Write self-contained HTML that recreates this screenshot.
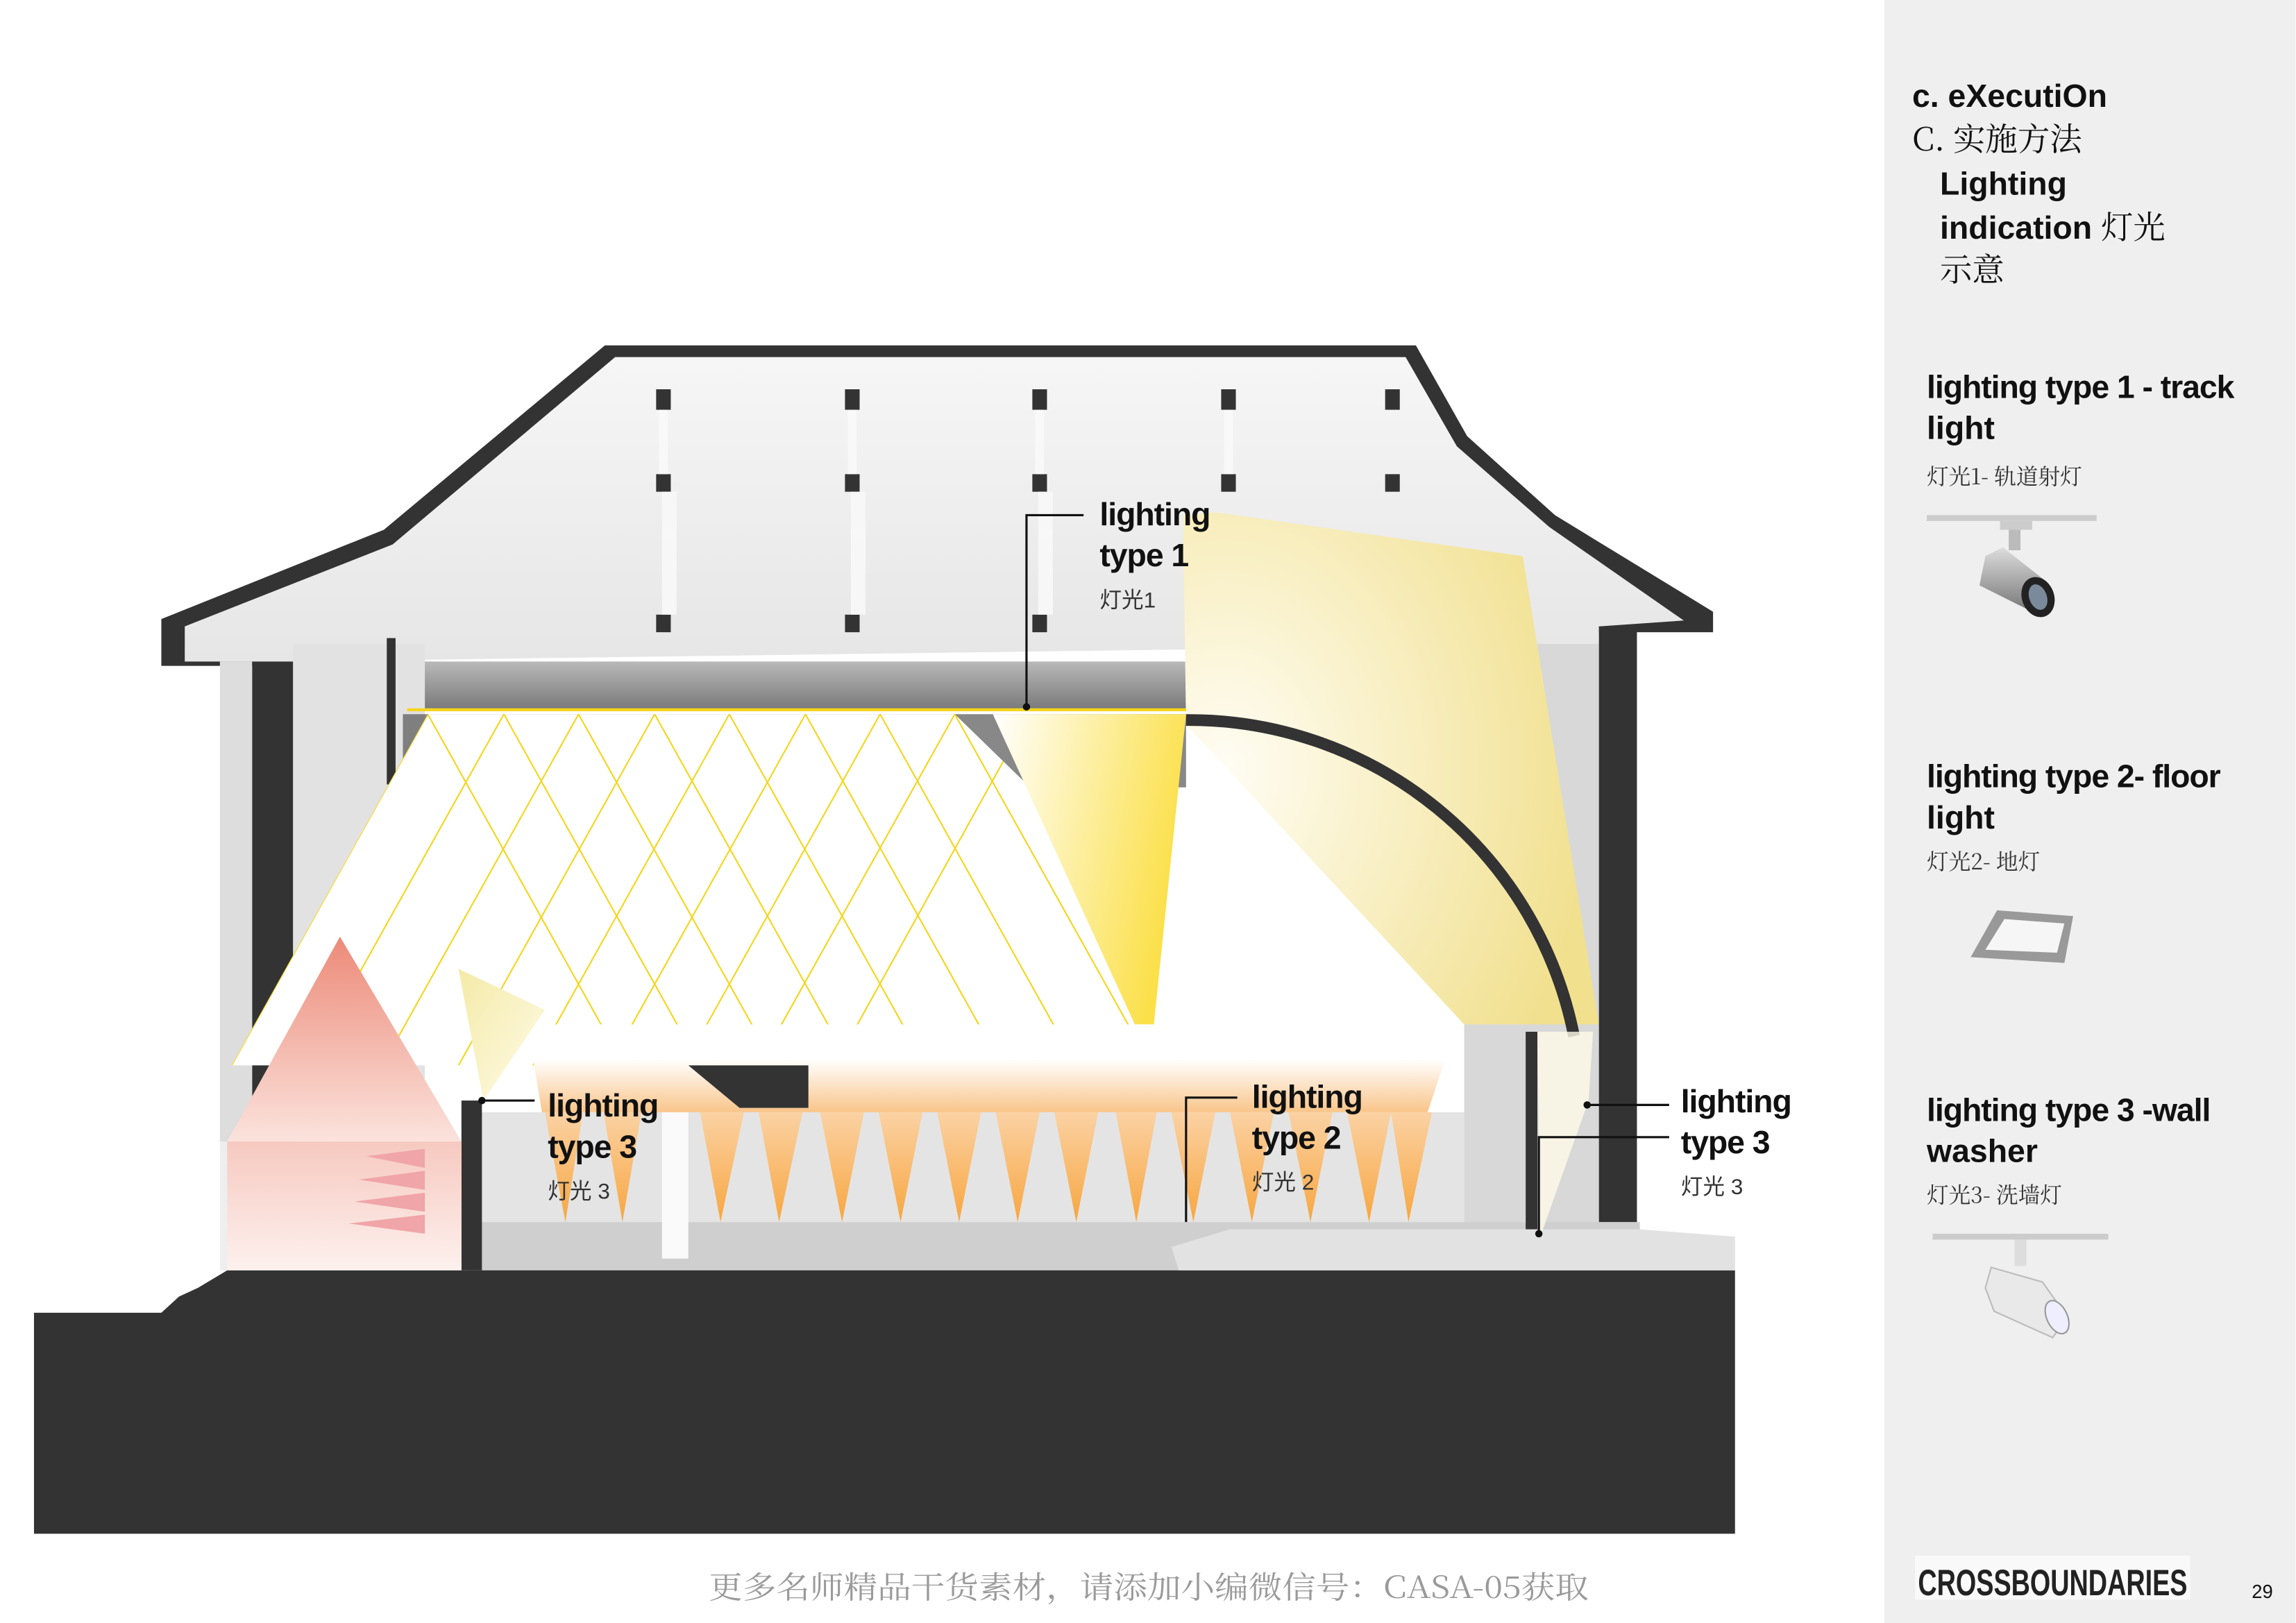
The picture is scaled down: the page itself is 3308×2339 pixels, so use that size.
<!DOCTYPE html>
<html><head><meta charset="utf-8">
<style>
html,body{margin:0;padding:0;background:#fff;}
svg{display:block;}
text{font-family:"Liberation Sans","Noto Sans CJK SC",sans-serif;}
.b{font-weight:bold;fill:#111;}
.c{font-family:"Noto Serif CJK SC","Liberation Serif",serif;fill:#333;}
</style></head><body>
<svg width="3308" height="2339" viewBox="0 0 1568 1109" xmlns="http://www.w3.org/2000/svg">
<defs>
<linearGradient id="ceil" x1="0" y1="0" x2="0" y2="1"><stop offset="0" stop-color="#f6f6f6"/><stop offset="1" stop-color="#e6e6e6"/></linearGradient>
<linearGradient id="yb" x1="0" y1="0" x2="1" y2="0.3"><stop offset="0" stop-color="#fff"/><stop offset="1" stop-color="#fbe04a"/></linearGradient>
<radialGradient id="fan2" cx="0.1" cy="0.5" r="0.9"><stop offset="0" stop-color="#fffdf4"/><stop offset="1" stop-color="#f1e08e"/></radialGradient>
<linearGradient id="or" x1="0" y1="0" x2="0" y2="1"><stop offset="0" stop-color="#fff"/><stop offset="0.4" stop-color="#fff"/><stop offset="1" stop-color="#f9c58a"/></linearGradient>
<linearGradient id="or2" x1="0" y1="0" x2="0" y2="1"><stop offset="0" stop-color="#fbd2a4"/><stop offset="1" stop-color="#f7a640"/></linearGradient>
<linearGradient id="pk" x1="0" y1="0" x2="0" y2="1"><stop offset="0" stop-color="#ec8a78"/><stop offset="1" stop-color="#fbe3dd"/></linearGradient>
<linearGradient id="pk2" x1="0" y1="0" x2="0" y2="1"><stop offset="0" stop-color="#f6c9c0"/><stop offset="1" stop-color="#fdf1ee"/></linearGradient>
<linearGradient id="ly" x1="0" y1="0" x2="1" y2="1"><stop offset="0" stop-color="#f4eaa8"/><stop offset="1" stop-color="#fffbe8"/></linearGradient>
<linearGradient id="slat" x1="0" y1="0" x2="0" y2="1"><stop offset="0" stop-color="#b9b9b9"/><stop offset="1" stop-color="#777"/></linearGradient>
<linearGradient id="cyl" x1="0" y1="0" x2="0" y2="1"><stop offset="0" stop-color="#ddd"/><stop offset="0.5" stop-color="#aaa"/><stop offset="1" stop-color="#777"/></linearGradient>
<clipPath id="wb"><polygon points="158,728 292,488 652,488 870,700 560,705 540,728"/></clipPath>
</defs>

<rect x="1287" y="0" width="281" height="1109" fill="#efefef"/>

<polygon points="110,423 262,362 413,236 967,236 1002,298 1062,352 1170,418 1170,432 1118,432 1118,852 1092,852 1092,432 200,432 200,780 172,780 172,455 110,455" fill="#333"/>
<polygon points="126,428 268,372 420,244 960,244 995,305 1058,360 1150,424 1092,428 1092,440 200,452 126,452" fill="url(#ceil)"/>
<rect x="200" y="440" width="90" height="340" fill="#e2e2e2"/>
<rect x="150" y="452" width="22" height="330" fill="#ddd"/>
<rect x="264" y="436" width="6" height="100" fill="#333"/>
<rect x="1000" y="440" width="92" height="400" fill="#d8d8d8"/>
<g fill="#333">
<rect x="448" y="266" width="10" height="14"/><rect x="448" y="324" width="10" height="12"/><rect x="448" y="420" width="10" height="12"/>
<rect x="577" y="266" width="10" height="14"/><rect x="577" y="324" width="10" height="12"/><rect x="577" y="420" width="10" height="12"/>
<rect x="705" y="266" width="10" height="14"/><rect x="705" y="324" width="10" height="12"/><rect x="705" y="420" width="10" height="12"/>
<rect x="834" y="266" width="10" height="14"/><rect x="834" y="324" width="10" height="12"/>
<rect x="946" y="266" width="10" height="14"/><rect x="946" y="324" width="10" height="12"/>
</g>
<g fill="#fafafa" opacity="0.8">
<rect x="450" y="280" width="6" height="44"/><rect x="579" y="280" width="6" height="44"/><rect x="707" y="280" width="6" height="44"/><rect x="836" y="280" width="6" height="44"/>
<rect x="452" y="336" width="10" height="84"/><rect x="581" y="336" width="10" height="84"/><rect x="709" y="336" width="10" height="84"/>
</g>
<rect x="290" y="452" width="520" height="34" fill="url(#slat)"/>
<rect x="275" y="488" width="535" height="50" fill="#555" opacity="0.7"/>

<rect x="150" y="780" width="170" height="88" fill="#eee"/>
<rect x="320" y="835" width="800" height="33" fill="#cfcfcf"/>
<rect x="320" y="760" width="680" height="75" fill="#e4e4e4"/>
<rect x="315" y="752" width="14" height="116" fill="#333"/>
<rect x="1042" y="705" width="8" height="147" fill="#333"/>
<rect x="452" y="750" width="18" height="110" fill="#fafafa"/>
<polygon points="23,897 110,897 122,886 135,880 145,874 155,868 1185,868 1185,1048 23,1048" fill="#333"/>
<polygon points="800,852 840,840 1120,840 1185,845 1185,868 805,868" fill="#e2e2e2"/>

<polygon points="808,352 830,350 1040,380 1092,700 1000,700 810,495" fill="url(#fan2)"/>
<path d="M810,492 A268,268 0 0 1 1075,708" fill="none" stroke="#333" stroke-width="8"/>

<polygon points="158,728 292,488 652,488 870,700 560,705 540,728" fill="#fff"/>
<g clip-path="url(#wb)" stroke="#f5d51c" stroke-width="1" fill="none">
<line x1="292" y1="488" x2="158" y2="728"/><line x1="292" y1="488" x2="426" y2="728"/>
<line x1="344" y1="488" x2="210" y2="728"/><line x1="344" y1="488" x2="478" y2="728"/>
<line x1="395" y1="488" x2="261" y2="728"/><line x1="395" y1="488" x2="529" y2="728"/>
<line x1="447" y1="488" x2="313" y2="728"/><line x1="447" y1="488" x2="581" y2="728"/>
<line x1="498" y1="488" x2="364" y2="728"/><line x1="498" y1="488" x2="632" y2="728"/>
<line x1="550" y1="488" x2="416" y2="728"/><line x1="550" y1="488" x2="684" y2="728"/>
<line x1="601" y1="488" x2="467" y2="728"/><line x1="601" y1="488" x2="735" y2="728"/>
<line x1="652" y1="488" x2="518" y2="728"/><line x1="652" y1="488" x2="786" y2="728"/>
<line x1="703" y1="488" x2="570" y2="728"/><line x1="755" y1="488" x2="888" y2="728"/>
</g>
<line x1="278" y1="485" x2="810" y2="485" stroke="#f5d51c" stroke-width="2"/>
<polygon points="678,488 810,488 788,700 775,700" fill="url(#yb)"/>
<circle cx="701" cy="483" r="2.5" fill="#111"/>

<polygon points="360,700 995,700 975,760 370,760" fill="url(#or)"/>
<g fill="url(#or2)">
<polygon points="372,760 398,760 386,835"/><polygon points="412,760 438,760 425,835"/>
<polygon points="478,760 508,760 492,835"/><polygon points="518,760 548,760 532,835"/>
<polygon points="560,760 590,760 575,835"/><polygon points="600,760 630,760 615,835"/>
<polygon points="640,760 670,760 655,835"/><polygon points="680,760 710,760 695,835"/>
<polygon points="720,760 750,760 735,835"/><polygon points="762,760 790,760 776,835"/>
<polygon points="800,760 830,760 815,835"/><polygon points="840,760 870,760 855,835"/>
<polygon points="880,760 910,760 895,835"/><polygon points="920,760 950,760 935,835"/>
<polygon points="950,760 978,760 962,835"/>
</g>
<polygon points="470,728 552,728 552,757 505,757" fill="#333"/>
<polygon points="313,662 372,690 330,752" fill="url(#ly)"/>
<circle cx="329" cy="752" r="2.5" fill="#111"/>
<polygon points="1050,705 1088,705 1085,752 1052,845" fill="#fffbe8" opacity="0.8"/>
<circle cx="1084" cy="755" r="2.5" fill="#111"/>
<circle cx="1051" cy="843" r="2.5" fill="#111"/>
<polygon points="232,640 155,780 315,780" fill="url(#pk)"/>
<rect x="155" y="780" width="160" height="88" fill="url(#pk2)"/>
<g fill="#f0a5a8">
<polygon points="290,785 250,790 290,798"/><polygon points="290,800 245,806 290,813"/><polygon points="290,815 242,821 290,828"/><polygon points="290,830 238,836 290,843"/>
</g>

<g stroke="#111" stroke-width="1.5" fill="none">
<polyline points="701,483 701,352 740,352"/>
<polyline points="329,752 365,752"/>
<polyline points="810,835 810,750 845,750"/>
<polyline points="1084,755 1140,755"/>
<polyline points="1051,843 1051,777 1140,777"/>
</g>
<g font-size="22" class="b" letter-spacing="-0.5">
<text x="751" y="359">lighting</text><text x="751" y="387">type 1</text>
<text x="374" y="763">lighting</text><text x="374" y="791">type 3</text>
<text x="855" y="757">lighting</text><text x="855" y="785">type 2</text>
<text x="1148" y="760">lighting</text><text x="1148" y="788">type 3</text>
</g>
<g font-size="15" class="c">
<text x="751" y="415">灯光1</text><text x="374" y="819">灯光 3</text><text x="855" y="813">灯光 2</text><text x="1148" y="816">灯光 3</text>
</g>

<text x="484" y="1092" font-size="21" class="c" style="fill:#9a9a9a" textLength="601" lengthAdjust="spacingAndGlyphs">更多名师精品干货素材，请添加小编微信号：CASA-05获取</text>

<text x="1306" y="73" font-size="22" class="b">c. eXecutiOn</text>
<text x="1306" y="103" font-size="22" class="c" style="fill:#111">C. 实施方法</text>
<text x="1325" y="133" font-size="22" class="b">Lighting</text>
<text x="1325" y="163" font-size="22" class="b">indication <tspan class="c" font-weight="normal" style="fill:#111">灯光</tspan></text>
<text x="1325" y="192" font-size="22" class="c" style="fill:#111">示意</text>

<text x="1316" y="272" font-size="22" class="b" letter-spacing="-0.5">lighting type 1 - track</text>
<text x="1316" y="300" font-size="22" class="b">light</text>
<text x="1316" y="331" font-size="15" class="c">灯光1- 轨道射灯</text>
<rect x="1316" y="352" width="116" height="4" fill="#ccc"/>
<rect x="1366" y="356" width="22" height="6" fill="#ccc"/>
<rect x="1372" y="362" width="8" height="14" fill="#bbb"/>
<polygon points="1356,380 1368,374 1396,396 1388,418 1352,400" fill="url(#cyl)"/>
<ellipse cx="1392" cy="408" rx="11" ry="14" fill="#222" transform="rotate(-20 1392 408)"/>
<ellipse cx="1392" cy="408" rx="6" ry="9" fill="#7a8a9a" transform="rotate(-20 1392 408)"/>

<text x="1316" y="538" font-size="22" class="b" letter-spacing="-0.5">lighting type 2- floor</text>
<text x="1316" y="566" font-size="22" class="b">light</text>
<text x="1316" y="594" font-size="15" class="c">灯光2- 地灯</text>
<polygon points="1364,622 1416,626 1410,658 1346,654" fill="#999"/>
<polygon points="1369,628 1410,631 1405,651 1356,649" fill="#f6f6f6"/>

<text x="1316" y="766" font-size="22" class="b" letter-spacing="-0.5">lighting type 3 -wall</text>
<text x="1316" y="794" font-size="22" class="b">washer</text>
<text x="1316" y="822" font-size="15" class="c">灯光3- 洗墙灯</text>
<rect x="1320" y="843" width="120" height="4" fill="#ccc"/>
<rect x="1376" y="847" width="8" height="18" fill="#ddd"/>
<polygon points="1360,866 1395,876 1412,900 1402,914 1362,896 1356,880" fill="#e9e9e9" stroke="#bbb" stroke-width="1"/>
<ellipse cx="1405" cy="900" rx="7" ry="12" fill="#eef" stroke="#999" transform="rotate(-25 1405 900)"/>

<rect x="1308" y="1063" width="188" height="30" fill="#fff" opacity="0.6"/>
<text x="1310" y="1090" font-size="25" font-weight="900" fill="#222" textLength="184" lengthAdjust="spacingAndGlyphs">CROSSBOUNDARIES</text>
<text x="1538" y="1092" font-size="13" fill="#111">29</text>
</svg>
</body></html>
